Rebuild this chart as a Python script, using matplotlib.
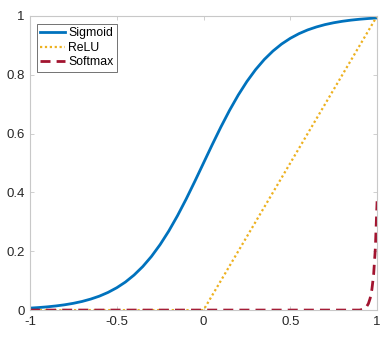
import numpy as np
import matplotlib
matplotlib.use("Agg")
import matplotlib.pyplot as plt

plt.rcParams['font.family'] = ['Liberation Sans', 'DejaVu Sans']

# Sigmoid curve, read at steps of 0.05 on x
sig_x = [-1.0, -0.95, -0.9, -0.85, -0.8, -0.75, -0.7, -0.65, -0.6, -0.55, -0.5,
         -0.45, -0.4, -0.35, -0.3, -0.25, -0.2, -0.15, -0.1, -0.05, 0.0,
         0.05, 0.1, 0.15, 0.2, 0.25, 0.3, 0.35, 0.4, 0.45, 0.5,
         0.55, 0.6, 0.65, 0.7, 0.75, 0.8, 0.85, 0.9, 0.95, 1.0]
sig_y = [0.0067, 0.0086, 0.0110, 0.0141, 0.0180, 0.0230, 0.0293, 0.0374, 0.0474, 0.0601, 0.0759,
         0.0953, 0.1192, 0.1480, 0.1824, 0.2227, 0.2689, 0.3208, 0.3775, 0.4378, 0.5,
         0.5622, 0.6225, 0.6792, 0.7311, 0.7773, 0.8176, 0.8520, 0.8808, 0.9047, 0.9241,
         0.9399, 0.9526, 0.9626, 0.9707, 0.9770, 0.9820, 0.9859, 0.9890, 0.9914, 0.9933]

relu_x = [-1.0, 0.0, 1.0]
relu_y = [0.0, 0.0, 1.0]

soft_x = [-1.0, 0.90, 0.92, 0.93, 0.94, 0.95, 0.96, 0.97, 0.98, 0.99, 1.0]
soft_y = [0.0, 0.0, 0.003, 0.006, 0.012, 0.022, 0.040, 0.070, 0.120, 0.210, 0.370]

x_ticks = [-1, -0.5, 0, 0.5, 1]
x_labels = ['-1', '-0.5', '0', '0.5', '1']
y_ticks = [0, 0.2, 0.4, 0.6, 0.8, 1]
y_labels = ['0', '0.2', '0.4', '0.6', '0.8', '1']

fig = plt.figure(figsize=(3.84, 3.40), dpi=100)
ax = fig.add_axes([0.078, 0.088, 0.904, 0.865])

ax.plot(sig_x, sig_y, color='#0072BD', lw=2.0, label='Sigmoid')
ax.plot(relu_x, relu_y, color='#EDB120', lw=1.6, linestyle=(0, (1, 1.2)), label='ReLU')
ax.plot(soft_x, soft_y, color='#A2142F', lw=2.0, linestyle=(0, (3.6, 2.2)), label='Softmax')

ax.set_xlim(-1, 1)
ax.set_ylim(0, 1)
ax.set_xticks(x_ticks)
ax.set_xticklabels(x_labels)
ax.set_yticks(y_ticks)
ax.set_yticklabels(y_labels)
ax.tick_params(direction='in', length=3, width=0.6, colors='#c8c8c8',
               labelcolor='#262626', labelsize=9.5, top=True, right=True, pad=4)
for s in ax.spines.values():
    s.set_color('#c8c8c8')
    s.set_linewidth(0.8)

leg = ax.legend(loc='upper left', bbox_to_anchor=(0.012, 0.982), fontsize=8.8,
                frameon=True, fancybox=False, handlelength=2.0, handletextpad=0.3,
                borderpad=0.3, labelspacing=0.2, borderaxespad=0.2)
leg.get_frame().set_edgecolor('#333333')
leg.get_frame().set_linewidth(0.6)

fig.savefig('out.png', dpi=100)
